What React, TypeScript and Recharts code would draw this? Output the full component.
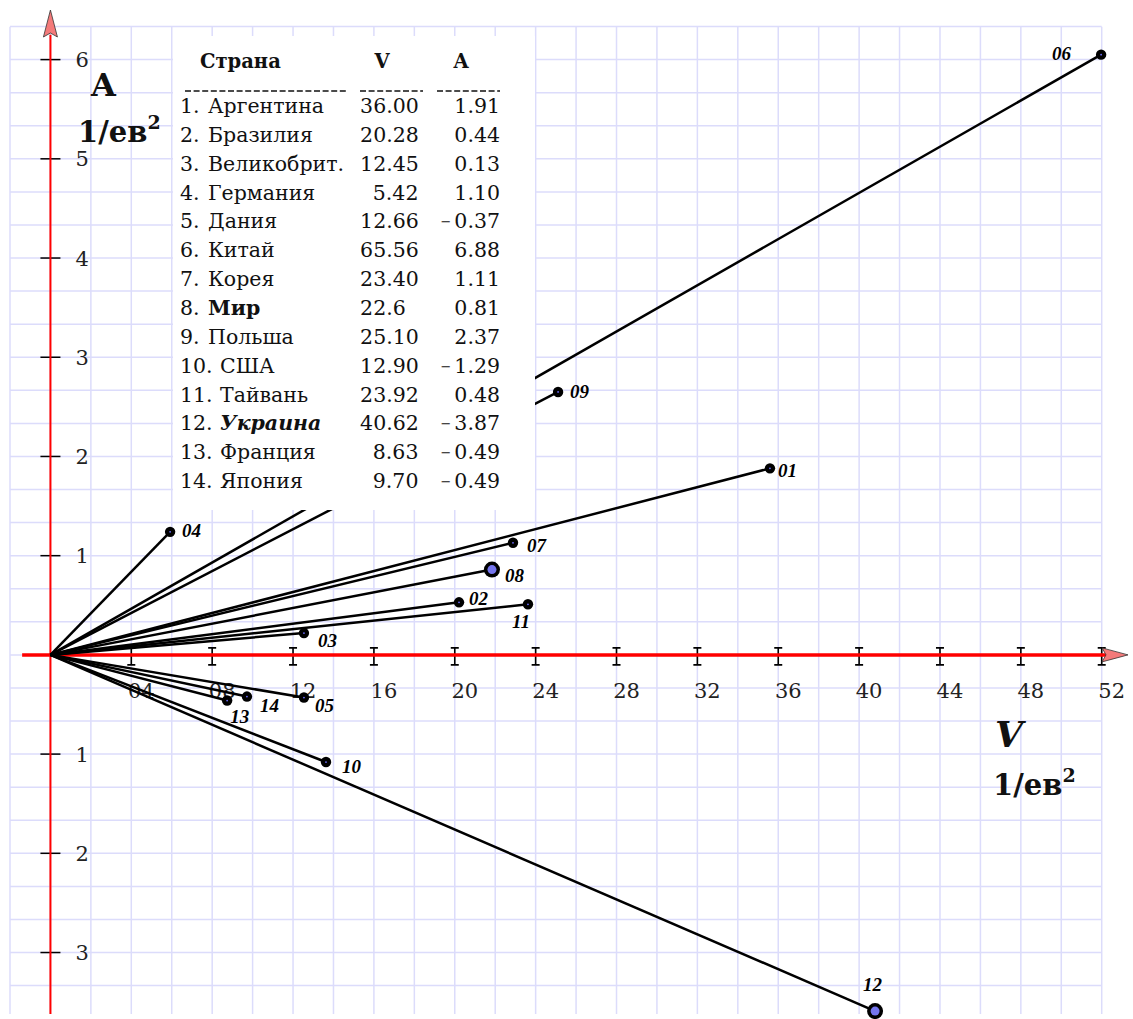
import React from "react";
import { ComposedChart, XAxis, YAxis, Scatter, ReferenceLine, ReferenceDot } from "recharts";

// table contents
const ids = ["01", "02", "03", "04", "05", "06", "07", "08", "09", "10", "11", "12", "13", "14"];
const countries = [
  "Аргентина", "Бразилия", "Великобрит.", "Германия", "Дания", "Китай", "Корея",
  "Мир", "Польша", "США", "Тайвань", "Украина", "Франция", "Япония",
];
const tableV = ["36.00", "20.28", "12.45", "5.42", "12.66", "65.56", "23.40", "22.6", "25.10", "12.90", "23.92", "40.62", "8.63", "9.70"];
const tableA = ["1.91", "0.44", "0.13", "1.10", "−0.37", "6.88", "1.11", "0.81", "2.37", "−1.29", "0.48", "−3.87", "−0.49", "−0.49"];

// vector ends as they are drawn on the plot
const plotV = [35.59, 20.21, 12.54, 5.92, 12.54, 51.97, 22.88, 21.84, 25.11, 13.63, 23.62, 40.79, 8.74, 9.72];
const plotA = [1.88, 0.53, 0.22, 1.24, -0.43, 6.05, 1.13, 0.86, 2.65, -1.08, 0.51, -3.59, -0.46, -0.42];
const highlighted = ["08", "12"];

// axes
const xTicks = [4, 8, 12, 16, 20, 24, 28, 32, 36, 40, 44, 48, 52];
const xTickLabels = ["04", "08", "12", "16", "20", "24", "28", "32", "36", "40", "44", "48", "52"];
const yTicks = [-3, -2, -1, 1, 2, 3, 4, 5, 6];

const points = ids.map((id, i) => ({ id, x: plotV[i], y: plotA[i] }));
const xTickData = xTicks.map((v, i) => ({ x: v, y: 0, label: xTickLabels[i] }));
const yTickData = yTicks.map((v) => ({ x: 0, y: v, label: String(Math.abs(v)) }));

// grid: every 2 on V, every 1/3 on A
const gridV: number[] = [];
for (let v = -2; v <= 52; v += 2) gridV.push(v);
const gridA: number[] = [];
for (let k = -10; k <= 19; k++) gridA.push(k / 3);

const labelOffsets: Record<string, [number, number]> = {
  "01": [8, 9], "02": [10, 3], "03": [14, 14], "04": [12, 5], "05": [11, 14],
  "06": [-49, 5], "07": [14, 9], "08": [13, 12], "09": [12, 6], "10": [16, 11],
  "11": [-16, 24], "12": [-12, -20], "13": [3, 22], "14": [13, 15],
};

const SERIF = "'DejaVu Serif', serif";
const GRID = "#dcdcfb";

const PointShape = (props: any) => {
  const { cx, cy, payload } = props;
  const big = highlighted.includes(payload.id);
  const [dx, dy] = labelOffsets[payload.id];
  return (
    <g>
      {big ? (
        <>
          <circle cx={cx} cy={cy} r={8} fill="#000" />
          <circle cx={cx} cy={cy} r={4.5} fill="#7575ee" />
        </>
      ) : (
        <>
          <circle cx={cx} cy={cy} r={5.2} fill="#000" />
          <circle cx={cx} cy={cy} r={0.9} fill="#6f6fff" />
        </>
      )}
      <text x={cx + dx} y={cy + dy} fontFamily="'Liberation Serif', serif" fontWeight="bold" fontStyle="italic" fontSize={19} fill="#000">
        {payload.id}
      </text>
    </g>
  );
};

const XTickShape = (props: any) => {
  const { cx, cy, payload } = props;
  return (
    <g>
      <path
        d={`M${cx - 4},${cy - 7} H${cx + 4} M${cx},${cy - 7} V${cy + 10} M${cx - 4},${cy + 10} H${cx + 4}`}
        stroke="#000"
        strokeWidth={1.6}
        fill="none"
      />
      <text x={cx + 10} y={cy + 43} textAnchor="middle" fontFamily={SERIF} fontSize={21} fill="#222">
        {payload.label}
      </text>
    </g>
  );
};

const YTickShape = (props: any) => {
  const { cx, cy, payload } = props;
  return (
    <g>
      <line x1={cx - 10} x2={cx + 10} y1={cy} y2={cy} stroke="#000" strokeWidth={1.5} />
      <text x={cx + 25} y={cy + 7.5} fontFamily={SERIF} fontSize={21} fill="#222">
        {payload.label}
      </text>
    </g>
  );
};

const ArrowUp = (props: any) => {
  const { cx, cy } = props;
  return (
    <path
      d={`M${cx},${cy} L${cx + 7},${cy + 27} L${cx},${cy + 23} L${cx - 7},${cy + 27} Z`}
      fill="#f47a7a"
      stroke="#333"
      strokeWidth={0.8}
    />
  );
};

const ArrowRight = (props: any) => {
  const { cx, cy } = props;
  return (
    <path
      d={`M${cx},${cy} L${cx - 26},${cy - 7} L${cx - 22},${cy} L${cx - 26},${cy + 7} Z`}
      fill="#f47a7a"
      stroke="#333"
      strokeWidth={0.8}
    />
  );
};

const UnitLabel = ({ x, y }: { x: number; y: number }) => (
  <text x={x} y={y} fontFamily={SERIF} fontWeight="bold" fontSize={29} fill="#111">
    1/ев
    <tspan fontSize={19} dy={-13}>2</tspan>
  </text>
);

const Minus = () => (
  <tspan fontSize={13} dy={-2}>
    −
  </tspan>
);

const Table = () => {
  const rowY = (i: number) => 113 + i * 28.85;
  // V column aligned on the decimal point
  const vX = (s: string) => 385.5 - s.indexOf(".") * 12.7;
  return (
    <g>
      <rect x={173} y={36} width={362} height={474} fill="#fff" />
      <g fontFamily={SERIF} fontWeight="bold" fontSize={19.5} fill="#111">
        <text x={200} y={68}>Страна</text>
        <text x={382} y={68} textAnchor="middle">V</text>
        <text x={461} y={68} textAnchor="middle">A</text>
      </g>
      <g stroke="#111" strokeWidth={1.4} strokeDasharray="6 2.6">
        <line x1={185} x2={347} y1={91} y2={91} />
        <line x1={360} x2={423} y1={91} y2={91} />
        <line x1={437} x2={500} y1={91} y2={91} />
      </g>
      <g fontFamily={SERIF} fontSize={20.5} fill="#111">
        {countries.map((name, i) => {
          const neg = tableA[i].startsWith("−");
          return (
            <g key={name}>
              <text x={180} y={rowY(i)}>{`${i + 1}.`}</text>
              <text
                x={i < 9 ? 208 : 220}
                y={rowY(i)}
                fontWeight={i === 7 || i === 11 ? "bold" : "normal"}
                fontStyle={i === 11 ? "italic" : "normal"}
              >
                {name}
              </text>
              <text x={vX(tableV[i])} y={rowY(i)}>{tableV[i]}</text>
              <text x={500} y={rowY(i)} textAnchor="end">
                {neg ? <Minus /> : null}
                {neg ? <tspan dx={3} dy={2}>{tableA[i].slice(1)}</tspan> : tableA[i]}
              </text>
            </g>
          );
        })}
      </g>
    </g>
  );
};

export default function App() {
  return (
    <div style={{ position: "absolute", left: 0, top: 0, width: 1133, height: 1019, background: "#fff" }}>
      <ComposedChart width={1133} height={1019} margin={{ top: 10, right: 5, bottom: 0, left: 10 }}>
        <XAxis type="number" dataKey="x" domain={[-2, 53.3]} allowDataOverflow hide />
        <YAxis type="number" dataKey="y" domain={[-3.67, 6.5]} allowDataOverflow hide />

        {gridV.map((v) => (
          <ReferenceLine key={`gv${v}`} segment={[{ x: v, y: -3.62 }, { x: v, y: 6.33 }]} stroke={GRID} strokeWidth={1.5} ifOverflow="visible" zIndex={-100} />
        ))}
        {gridA.map((a) => (
          <ReferenceLine key={`ga${a}`} segment={[{ x: -2, y: a }, { x: 52, y: a }]} stroke={GRID} strokeWidth={1.5} ifOverflow="visible" zIndex={-100} />
        ))}

        <Scatter data={yTickData} shape={YTickShape} isAnimationActive={false} zIndex={100} />
        <Scatter data={xTickData} shape={XTickShape} isAnimationActive={false} zIndex={100} />

        <ReferenceLine segment={[{ x: 0, y: -3.62 }, { x: 0, y: 6.25 }]} stroke="#ff0000" strokeWidth={2} ifOverflow="visible" zIndex={200} />
        <ReferenceLine segment={[{ x: -1.4, y: 0 }, { x: 52.5, y: 0 }]} stroke="#ff0000" strokeWidth={3.5} ifOverflow="visible" zIndex={200} />

        {points.map((p) => (
          <ReferenceLine key={`v${p.id}`} segment={[{ x: 0, y: 0 }, { x: p.x, y: p.y }]} stroke="#000" strokeWidth={2.5} ifOverflow="visible" zIndex={300} />
        ))}

        <Scatter data={points} shape={PointShape} isAnimationActive={false} zIndex={600} />

        <ReferenceDot x={0} y={6.5} shape={ArrowUp} ifOverflow="visible" zIndex={700} />
        <ReferenceDot x={53.3} y={0} shape={ArrowRight} ifOverflow="visible" zIndex={700} />
      </ComposedChart>

      <svg width={1133} height={1019} style={{ position: "absolute", left: 0, top: 0, pointerEvents: "none" }}>
        <Table />
        <text x={91} y={96} fontFamily={SERIF} fontWeight="bold" fontSize={32} fill="#111">A</text>
        <UnitLabel x={78} y={142} />
        <text x={995} y={747} fontFamily={SERIF} fontWeight="bold" fontStyle="italic" fontSize={36} fill="#111">V</text>
        <UnitLabel x={993} y={795} />
      </svg>
    </div>
  );
}
